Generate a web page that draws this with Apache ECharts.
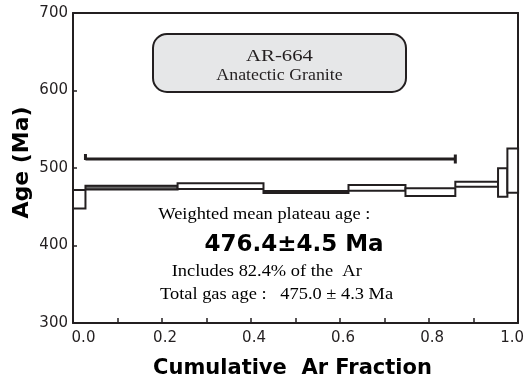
<!DOCTYPE html>
<html>
<head>
<meta charset="utf-8">
<script src="https://cdn.jsdelivr.net/npm/echarts@6/dist/echarts.min.js"></script>
<style>
  html, body { margin: 0; padding: 0; background: #fff; }
  #chart { width: 527px; height: 380px; }
</style>
</head>
<body>
<div id="chart"></div>
<script>
// Step-heating age spectrum, sample AR-664 (anatectic granite)
// Cumulative 39Ar fraction at the boundaries of each heating step
const cumFraction = [0, 0.028, 0.235, 0.428, 0.619, 0.747, 0.859, 0.955, 0.976, 1.0];
// Apparent age of each step (Ma) and its 1-sigma half height (Ma)
const stepAge = [459.7, 474.8, 476.6, 469.0, 474.4, 468.9, 479.1, 481.3, 496.7];
const stepErr = [12.0, 2.4, 3.7, 1.4, 3.7, 5.0, 3.2, 18.3, 28.6];

// Steps included in the plateau and the height of the bar drawn above them
const plateauStart = 0.028;
const plateauEnd = 0.859;
const plateauBarAge = 511.6;

// Axis ranges and labelled ticks
const xTicks = [0, 0.2, 0.4, 0.6, 0.8, 1.0];
const yTicks = [300, 400, 500, 600, 700];

const ink = '#231f20';

const stepData = stepAge.map((age, i) => [cumFraction[i], cumFraction[i + 1], age, stepErr[i]]);

const chart = echarts.init(document.getElementById('chart'));

chart.setOption({
  animation: false,
  backgroundColor: '#fff',
  grid: { left: 73, right: 6, top: 13, bottom: 57 },
  xAxis: [{
    type: 'value',
    min: xTicks[0],
    max: xTicks[xTicks.length - 1],
    interval: xTicks[1] - xTicks[0],
    axisLine: { onZero: false, lineStyle: { color: ink, width: 2 } },
    axisTick: { inside: true, length: 5, lineStyle: { color: ink, width: 1.5 } },
    minorTick: { show: true, splitNumber: 2, length: 5, lineStyle: { color: ink, width: 1.5 } },
    splitLine: { show: false },
    axisLabel: {
      margin: 8,
      color: ink,
      fontFamily: 'DejaVu Sans',
      fontSize: 15,
      formatter: function (v) {
        const s = v.toFixed(1);
        if (v === xTicks[0]) return '{first|' + s + '}';
        if (v === xTicks[xTicks.length - 1]) return '{last|' + s + '}';
        return '{mid|' + s + '}';
      },
      rich: {
        first: { fontFamily: 'DejaVu Sans', fontSize: 15, color: ink, padding: [0, 0, 0, 21] },
        mid: { fontFamily: 'DejaVu Sans', fontSize: 15, color: ink, padding: [0, 0, 0, 6] },
        last: { fontFamily: 'DejaVu Sans', fontSize: 15, color: ink, padding: [0, 12, 0, 0] }
      }
    }
  }, {
    type: 'value',
    position: 'top',
    min: xTicks[0],
    max: xTicks[xTicks.length - 1],
    axisLine: { onZero: false, lineStyle: { color: ink, width: 2 } },
    axisTick: { show: false },
    axisLabel: { show: false },
    splitLine: { show: false }
  }],
  yAxis: [{
    type: 'value',
    min: yTicks[0],
    max: yTicks[yTicks.length - 1],
    interval: yTicks[1] - yTicks[0],
    axisLine: { onZero: false, lineStyle: { color: ink, width: 2 } },
    axisTick: { inside: true, length: 4, lineStyle: { color: ink, width: 1.5 } },
    splitLine: { show: false },
    axisLabel: { margin: 5, color: ink, fontFamily: 'DejaVu Sans', fontSize: 15 }
  }, {
    type: 'value',
    position: 'right',
    min: yTicks[0],
    max: yTicks[yTicks.length - 1],
    axisLine: { show: true, onZero: false, lineStyle: { color: ink, width: 2 } },
    axisTick: { show: false },
    axisLabel: { show: false },
    splitLine: { show: false }
  }],
  series: [{
    // one rectangle per heating step: width = gas fraction, height = 2 sigma
    type: 'custom',
    data: stepData,
    clip: false,
    renderItem: function (params, api) {
      const i = params.dataIndex;
      const topLeft = api.coord([api.value(0), api.value(2) + api.value(3)]);
      const bottomRight = api.coord([api.value(1), api.value(2) - api.value(3)]);
      return {
        type: 'rect',
        shape: {
          x: topLeft[0],
          y: topLeft[1],
          width: bottomRight[0] - topLeft[0],
          height: bottomRight[1] - topLeft[1]
        },
        style: { fill: i === 1 ? '#666666' : '#ffffff', stroke: ink, lineWidth: 2 }
      };
    }
  }, {
    // plateau bar over the steps used for the weighted mean
    type: 'custom',
    data: [[plateauStart, plateauEnd, plateauBarAge]],
    clip: false,
    renderItem: function (params, api) {
      const a = api.coord([api.value(0), api.value(2)]);
      const b = api.coord([api.value(1), api.value(2)]);
      const st = { stroke: ink, lineWidth: 3 };
      return {
        type: 'group',
        children: [
          { type: 'line', shape: { x1: a[0], y1: a[1], x2: b[0], y2: b[1] }, style: st },
          { type: 'line', shape: { x1: a[0], y1: a[1] - 5, x2: a[0], y2: a[1] + 1 }, style: st },
          { type: 'line', shape: { x1: b[0], y1: b[1] - 4.5, x2: b[0], y2: b[1] + 4.5 }, style: st }
        ]
      };
    }
  }],
  graphic: [
    {
      type: 'rect',
      shape: { x: 153, y: 34, width: 253, height: 58, r: 14 },
      style: { fill: '#e6e7e8', stroke: ink, lineWidth: 2 },
      z: 10
    },
    {
      type: 'text', x: 279.5, y: 56.5, scaleX: 1.22, z: 11,
      style: { text: 'AR-664', fill: ink, font: '17px "Liberation Serif"', textAlign: 'center', textVerticalAlign: 'middle' }
    },
    {
      type: 'text', x: 279.5, y: 76, scaleX: 1.05, z: 11,
      style: { text: 'Anatectic Granite', fill: ink, font: '17px "Liberation Serif"', textAlign: 'center', textVerticalAlign: 'middle' }
    },
    {
      type: 'text', x: 158.3, y: 215, scaleX: 1.15, z: 11,
      style: { text: 'Weighted mean plateau age :', fill: '#000', font: '16px "Liberation Serif"', textAlign: 'left', textVerticalAlign: 'middle' }
    },
    {
      type: 'text', x: 294, y: 244.6, z: 11,
      style: { text: '476.4±4.5 Ma', fill: '#000', font: 'bold 23px "DejaVu Sans"', textAlign: 'center', textVerticalAlign: 'middle' }
    },
    {
      type: 'text', x: 171.7, y: 271.7, scaleX: 1.15, z: 11,
      style: { text: 'Includes 82.4% of the  Ar', fill: '#000', font: '16px "Liberation Serif"', textAlign: 'left', textVerticalAlign: 'middle' }
    },
    {
      type: 'text', x: 160, y: 294.3, scaleX: 1.15, z: 11,
      style: { text: 'Total gas age :   475.0 ± 4.3 Ma', fill: '#000', font: '16px "Liberation Serif"', textAlign: 'left', textVerticalAlign: 'middle' }
    },
    {
      type: 'text', x: 292.5, y: 369, z: 11,
      style: { text: 'Cumulative  Ar Fraction', fill: '#000', font: 'bold 21px "DejaVu Sans"', textAlign: 'center', textVerticalAlign: 'middle' }
    },
    {
      type: 'text', x: 22.5, y: 162.5, rotation: Math.PI / 2, z: 11,
      style: { text: 'Age (Ma)', fill: '#000', font: 'bold 22px "DejaVu Sans"', textAlign: 'center', textVerticalAlign: 'middle' }
    }
  ]
});
</script>
</body>
</html>
